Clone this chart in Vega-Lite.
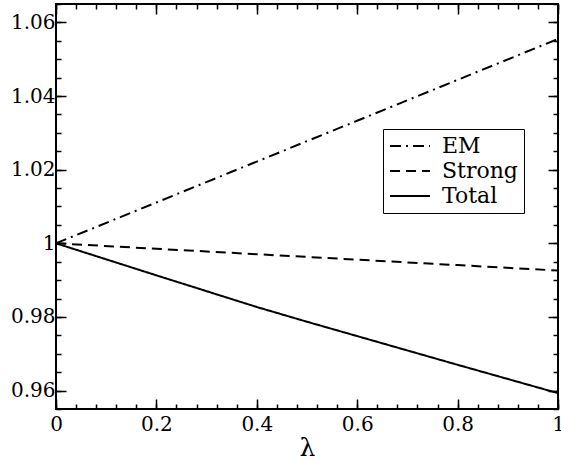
{
  "$schema": "https://vega.github.io/schema/vega-lite/v6.json",
  "autosize": {"type": "none"},
  "width": 502,
  "height": 405,
  "padding": {"left": 56, "top": 4, "right": 3, "bottom": 53},
  "background": "white",
  "config": {
    "view": {"stroke": "black", "strokeWidth": 2},
    "font": "DejaVu Serif",
    "axis": {"domain": false, "grid": false, "tickColor": "black", "tickWidth": 1.5, "labelColor": "black", "titleColor": "black", "labelFont": "DejaVu Serif", "titleFont": "DejaVu Serif"}
  },
  "data": {"values": [
    {"lambda": 0, "value": 1, "series": "EM"},
    {"lambda": 0.2, "value": 1.0111, "series": "EM"},
    {"lambda": 0.4, "value": 1.0222, "series": "EM"},
    {"lambda": 0.6, "value": 1.0333, "series": "EM"},
    {"lambda": 0.8, "value": 1.0444, "series": "EM"},
    {"lambda": 1, "value": 1.0555, "series": "EM"},
    {"lambda": 0, "value": 1, "series": "Strong"},
    {"lambda": 0.2, "value": 0.99852, "series": "Strong"},
    {"lambda": 0.4, "value": 0.99704, "series": "Strong"},
    {"lambda": 0.6, "value": 0.99556, "series": "Strong"},
    {"lambda": 0.8, "value": 0.99408, "series": "Strong"},
    {"lambda": 1, "value": 0.9926, "series": "Strong"},
    {"lambda": 0, "value": 1, "series": "Total"},
    {"lambda": 0.2, "value": 0.9913, "series": "Total"},
    {"lambda": 0.4, "value": 0.9827, "series": "Total"},
    {"lambda": 0.5, "value": 0.9787, "series": "Total"},
    {"lambda": 0.6, "value": 0.9748, "series": "Total"},
    {"lambda": 0.8, "value": 0.967, "series": "Total"},
    {"lambda": 1, "value": 0.9593, "series": "Total"}
  ]},
  "resolve": {"axis": {"x": "independent", "y": "independent"}},
  "layer": [
    {
      "mark": {"type": "line", "color": "black", "strokeWidth": 2, "clip": true},
      "encoding": {
        "x": {"field": "lambda", "type": "quantitative", "scale": {"domain": [0, 1], "nice": false, "zero": false},
          "axis": {"orient": "bottom", "title": "λ", "titleFont": "DejaVu Serif", "titleFontSize": 25, "titleFontWeight": "normal", "titlePadding": 1, "values": [0, 0.2, 0.4, 0.6, 0.8, 1], "labelExpr": "datum.value + ''", "labelFont": "DejaVu Serif", "labelFontSize": 20, "tickSize": -10, "labelPadding": 15, "labelFlush": false}},
        "y": {"field": "value", "type": "quantitative", "scale": {"domain": [0.955, 1.065], "nice": false, "zero": false},
          "axis": {"orient": "left", "title": null, "values": [0.96, 0.98, 1, 1.02, 1.04, 1.06], "labelExpr": "datum.value + ''", "labelFont": "DejaVu Serif", "labelFontSize": 20, "tickSize": -10, "labelPadding": 11}},
        "strokeDash": {"field": "series", "type": "nominal",
          "scale": {"domain": ["EM", "Strong", "Total"], "range": [[11, 5, 2, 5], [10, 6], [1, 0]]},
          "legend": {"title": null, "orient": "none", "legendX": 327, "legendY": 125, "strokeColor": "black", "fillColor": "white", "padding": 6, "symbolType": "M-2,0H2", "symbolSize": 400, "symbolOffset": 10, "symbolStrokeWidth": 2, "symbolStrokeColor": "black", "labelFont": "DejaVu Serif", "labelFontSize": 22, "labelColor": "black", "labelOffset": 21, "rowPadding": 3, "labelLimit": 300}}
      }
    },
    {
      "mark": {"type": "point", "opacity": 0},
      "encoding": {
        "x": {"field": "lambda", "type": "quantitative", "scale": {"domain": [0, 1], "nice": false, "zero": false},
          "axis": {"orient": "bottom", "title": null, "labels": false, "tickSize": -5, "values": [0, 0.04, 0.08, 0.12, 0.16, 0.2, 0.24, 0.28, 0.32, 0.36, 0.4, 0.44, 0.48, 0.52, 0.56, 0.6, 0.64, 0.68, 0.72, 0.76, 0.8, 0.84, 0.88, 0.92, 0.96, 1]}},
        "y": {"field": "value", "type": "quantitative", "scale": {"domain": [0.955, 1.065], "nice": false, "zero": false},
          "axis": {"orient": "left", "title": null, "labels": false, "tickSize": -5, "values": [0.955, 0.96, 0.965, 0.97, 0.975, 0.98, 0.985, 0.99, 0.995, 1, 1.005, 1.01, 1.015, 1.02, 1.025, 1.03, 1.035, 1.04, 1.045, 1.05, 1.055, 1.06, 1.065]}}
      }
    },
    {
      "mark": {"type": "point", "opacity": 0},
      "encoding": {
        "x": {"field": "lambda", "type": "quantitative", "scale": {"domain": [0, 1], "nice": false, "zero": false},
          "axis": {"orient": "top", "title": null, "labels": false, "tickSize": -10, "values": [0, 0.2, 0.4, 0.6, 0.8, 1]}},
        "y": {"field": "value", "type": "quantitative", "scale": {"domain": [0.955, 1.065], "nice": false, "zero": false},
          "axis": {"orient": "right", "title": null, "labels": false, "tickSize": -10, "values": [0.96, 0.98, 1, 1.02, 1.04, 1.06]}}
      }
    },
    {
      "mark": {"type": "point", "opacity": 0},
      "encoding": {
        "x": {"field": "lambda", "type": "quantitative", "scale": {"domain": [0, 1], "nice": false, "zero": false},
          "axis": {"orient": "top", "title": null, "labels": false, "tickSize": -5, "values": [0, 0.04, 0.08, 0.12, 0.16, 0.2, 0.24, 0.28, 0.32, 0.36, 0.4, 0.44, 0.48, 0.52, 0.56, 0.6, 0.64, 0.68, 0.72, 0.76, 0.8, 0.84, 0.88, 0.92, 0.96, 1]}},
        "y": {"field": "value", "type": "quantitative", "scale": {"domain": [0.955, 1.065], "nice": false, "zero": false},
          "axis": {"orient": "right", "title": null, "labels": false, "tickSize": -5, "values": [0.955, 0.96, 0.965, 0.97, 0.975, 0.98, 0.985, 0.99, 0.995, 1, 1.005, 1.01, 1.015, 1.02, 1.025, 1.03, 1.035, 1.04, 1.045, 1.05, 1.055, 1.06, 1.065]}}
      }
    }
  ]
}
